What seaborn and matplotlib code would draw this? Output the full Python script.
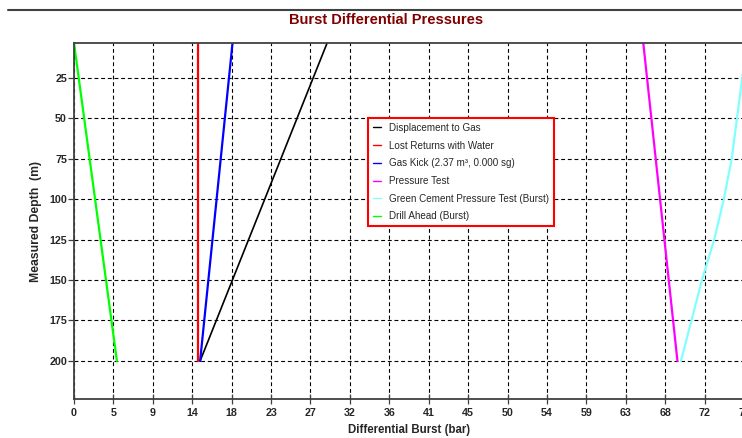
import numpy as np
import pandas as pd
import matplotlib
matplotlib.use("Agg")
import matplotlib.pyplot as plt
from matplotlib.lines import Line2D
import seaborn as sns

# Burst load cases: differential pressure (bar) vs measured depth (m)
depth_straight = [3.6, 200.0]
displacement_to_gas = [28.9, 14.4]
lost_returns_water = [14.2, 14.2]
gas_kick = [18.1, 14.4]
pressure_test = [65.0, 68.9]
drill_ahead = [0.0, 4.9]

depth_cement = [3.6, 25.0, 50.0, 75.0, 100.0, 125.0, 150.0, 175.0, 200.0]
green_cement_test = [76.9, 76.3, 75.7, 75.1, 74.2, 73.1, 71.7, 70.5, 69.3]

series_names = [
    "Displacement to Gas",
    "Lost Returns with Water",
    "Gas Kick (2.37 m\u00b3, 0.000 sg)",
    "Pressure Test",
    "Green Cement Pressure Test (Burst)",
    "Drill Ahead (Burst)",
]
series_colors = ["#000000", "#ff0000", "#0000ff", "#ff00ff", "#80ffff", "#00ff00"]

x_tick_labels = ["0", "5", "9", "14", "18", "23", "27", "32", "36", "41",
                 "45", "50", "54", "59", "63", "68", "72", "77"]
y_tick_values = [25, 50, 75, 100, 125, 150, 175, 200]

frames = []
for name, vals, dep in [
    (series_names[0], displacement_to_gas, depth_straight),
    (series_names[1], lost_returns_water, depth_straight),
    (series_names[2], gas_kick, depth_straight),
    (series_names[3], pressure_test, depth_straight),
    (series_names[4], green_cement_test, depth_cement),
    (series_names[5], drill_ahead, depth_straight),
]:
    frames.append(pd.DataFrame({"pressure": vals, "depth": dep, "case": name}))
df = pd.concat(frames, ignore_index=True)

sns.set_style("white")
plt.rcParams["font.family"] = ["Liberation Sans", "DejaVu Sans"]

W, H = 742, 438
fig = plt.figure(figsize=(W / 100, H / 100), dpi=100)
ax = fig.add_axes([74 / W, 1 - 399 / H, 670 / W, (399 - 43) / H])

palette = dict(zip(series_names, series_colors))
sns.lineplot(data=df, x="pressure", y="depth", hue="case", hue_order=series_names,
             palette=palette, sort=False, estimator=None, legend=False,
             linewidth=1.6, ax=ax)
for ln in ax.get_lines():
    if ln.get_color() in ("#000000", "black", (0.0, 0.0, 0.0, 1)):
        ln.set_linewidth(1.2)

x_step = 4.5
x_ticks = np.arange(len(x_tick_labels)) * x_step
ax.set_xlim(0, x_ticks[-1])
ax.set_ylim(223.5, 3.6)
ax.set_xticks(x_ticks)
ax.set_xticklabels(x_tick_labels)
ax.set_yticks(y_tick_values)
ax.set_yticklabels([str(v) for v in y_tick_values])

ax.grid(True, color="black", linestyle=(0, (3.5, 2.5)), linewidth=0.8)
ax.set_axisbelow(True)

for side in ("left", "bottom", "top"):
    ax.spines[side].set_color("#404040")
    ax.spines[side].set_linewidth(1.3)
ax.spines["right"].set_visible(False)

ax.tick_params(axis="x", direction="inout", length=7, width=0.9, color="#404040",
               labelsize=7.7, pad=3, bottom=True)
ax.tick_params(axis="y", direction="out", length=4.5, width=0.9, color="#404040",
               labelsize=7.7, pad=0.5, left=True)
for lbl in ax.get_xticklabels() + ax.get_yticklabels():
    lbl.set_fontweight("bold")

ax.set_xlabel("Differential Burst (bar)", fontsize=8.3, fontweight="bold", labelpad=4)
ax.set_ylabel("Measured Depth  (m)", fontsize=8.8, fontweight="bold", labelpad=5)

fig.text(386 / W, 1 - 20 / H, "Burst Differential Pressures", ha="center", va="center",
         fontsize=10.5, fontweight="bold", color="#800000")
fig.add_artist(Line2D([8 / W, 1.0], [1 - 10 / H, 1 - 10 / H], transform=fig.transFigure,
                      color="#404040", linewidth=1.5))

handles = [Line2D([], [], color=c, linewidth=1.0) for c in series_colors]
leg = fig.legend(handles, series_names, loc="upper left",
                 bbox_to_anchor=(368 / W, 1 - 118 / H), bbox_transform=fig.transFigure,
                 fontsize=7.1, frameon=True, fancybox=False, handlelength=0.8,
                 handletextpad=0.8, labelspacing=0.78, borderpad=0.5, borderaxespad=0)
leg.get_frame().set_edgecolor("#ff0000")
leg.get_frame().set_linewidth(1.5)
leg.get_frame().set_facecolor("white")
leg.get_frame().set_alpha(1)

fig.savefig("out.png", dpi=100)
